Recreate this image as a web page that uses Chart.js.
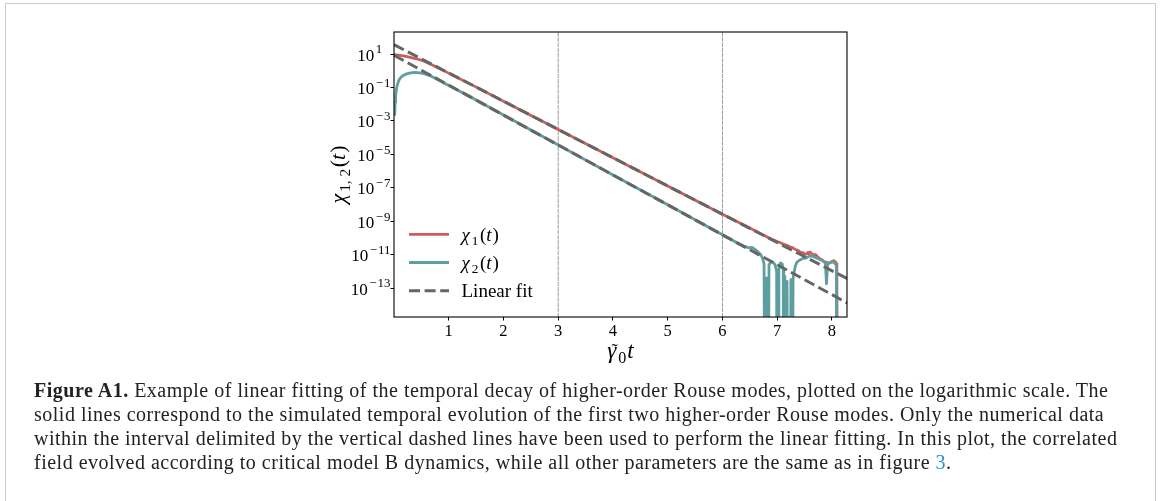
<!DOCTYPE html>
<html>
<head>
<meta charset="utf-8">
<script src="https://cdn.jsdelivr.net/npm/chart.js@4.4.0/dist/chart.umd.min.js"></script>
<style>
    html, body { margin: 0; padding: 0; background: #fff; }
    body { width: 1165px; height: 501px; position: relative; overflow: hidden; }
    #figure-box {
        position: absolute; left: 5px; top: 3px; width: 1151px; height: 520px;
        border: 1.5px solid #cbcbcb; border-bottom: none; box-sizing: border-box;
    }
    #decay-chart { position: absolute; left: 0; top: 0; }
    .caption {
        position: absolute; left: 34px; top: 378px;
        font-family: 'Liberation Serif', 'Times New Roman', serif;
        font-size: 20px; line-height: 24px; letter-spacing: 0.5px;
        color: #222; white-space: nowrap;
    }
    .caption .ref { color: #2b8fd0; }
</style>
</head>
<body>
<div id="figure-box"></div>
<canvas id="decay-chart" width="1165" height="501"></canvas>
<div class="caption">
    <div><b>Figure A1.</b> Example of linear fitting of the temporal decay of higher-order Rouse modes, plotted on the logarithmic scale. The</div>
    <div>solid lines correspond to the simulated temporal evolution of the first two higher-order Rouse modes. Only the numerical data</div>
    <div>within the interval delimited by the vertical dashed lines have been used to perform the linear fitting. In this plot, the correlated</div>
    <div>field evolved according to critical model B dynamics, while all other parameters are the same as in figure <span class="ref">3</span>.</div>
</div>
<script>
// samples are [time, log10(chi)]; null marks a non-positive sample (off the log axis)
const chi1Samples = [
    [0, 0.97], [0.08, 0.94], [0.17, 0.89], [0.26, 0.83], [0.35, 0.76], [0.44, 0.69],
    [0.53, 0.6], [0.62, 0.47], [0.71, 0.33], [0.8, 0.18], [0.9, 0.02], [1.0, -0.14],
    [1.14, -0.38], [1.3, -0.64], [1.45, -0.89], [2, -1.82], [3, -3.51], [4, -5.2],
    [5, -6.89], [6, -8.58], [6.5, -9.41], [6.7, -9.75], [6.9, -10.08], [7.0, -10.22],
    [7.06, -10.29], [7.12, -10.38], [7.18, -10.44], [7.23, -10.53], [7.28, -10.58],
    [7.33, -10.69], [7.38, -10.74], [7.43, -10.86], [7.47, -10.88], [7.5, -10.96],
    [7.53, -10.97], [7.56, -10.86], [7.58, -10.96], [7.6, -10.84], [7.62, -10.92],
    [7.65, -10.97], [7.68, -11.06], [7.7, -10.99], [7.73, -11.1], [7.76, -11.19],
    [7.79, -11.26], [7.82, -11.3], [7.85, -11.41], [7.88, -11.43], [7.92, -11.48],
    [7.95, -11.5], [7.98, -11.46], [8.01, -11.38], [8.04, -11.36], [8.07, -11.46],
    [8.09, -11.55], [8.11, null]
];
const chi2Samples = [
    [0.014, -2.62], [0.02, -1.9], [0.03, -1.5], [0.045, -1.1], [0.06, -0.85], [0.08, -0.65],
    [0.1, -0.5], [0.13, -0.38], [0.17, -0.28], [0.22, -0.2], [0.28, -0.14], [0.34, -0.11],
    [0.4, -0.1], [0.46, -0.12], [0.53, -0.16], [0.6, -0.23], [0.68, -0.33], [0.76, -0.46],
    [0.84, -0.6], [0.92, -0.74], [1.0, -0.88], [1.1, -1.05], [1.2, -1.22], [1.35, -1.48],
    [1.5, -1.75], [2, -2.65], [3, -4.44], [4, -6.23], [5, -8.02], [6, -9.81], [6.2, -10.17],
    [6.315, -10.38], [6.4, -10.5], [6.46, -10.56], [6.5, -10.6], [6.54, -10.57], [6.58, -10.66],
    [6.62, -10.75], [6.66, -10.88], [6.7, -11.0], [6.73, -11.2], [6.76, -11.55], [6.78, null],
    [6.8, -12.4], [6.81, null], [6.83, null], [6.85, -11.6], [6.88, -11.45], [6.92, -11.45],
    [6.96, -11.6], [6.99, -12.0], [7.0, null], [7.02, null], [7.03, -11.9], [7.06, -11.5],
    [7.09, -11.55], [7.11, -11.9], [7.12, null], [7.14, -12.3], [7.16, null], [7.18, -12.6],
    [7.2, null], [7.23, null], [7.25, -12.5], [7.27, null], [7.29, -12.4], [7.33, -11.7],
    [7.36, -11.45], [7.4, -11.35], [7.44, -11.28], [7.48, -11.22], [7.53, -11.2], [7.57, -11.12],
    [7.62, -11.05], [7.66, -11.12], [7.72, -11.2], [7.76, -11.26], [7.81, -11.34], [7.85, -11.42],
    [7.88, -11.5], [7.9, -12.74], [7.92, -11.6], [7.95, -11.5], [7.99, -11.45], [8.02, -11.44],
    [8.05, -11.5], [8.08, -11.64], [8.1, null]
];
const fit1Samples = [[0, 1.56], [8.3, -12.47]];
const fit2Samples = [[0, 0.93], [8.3, -13.93]];
const fitWindow = [3, 6];

const xRange = [0, 8.275];
const yExpRange = [-14.73, 2.32];
const xTickValues = [1, 2, 3, 4, 5, 6, 7, 8];
const yTickExponents = [1, -1, -3, -5, -7, -9, -11, -13];

const SERIF = "'Liberation Serif', 'DejaVu Serif', serif";
const BELOW_AXIS = 1e-30;

function toPoints(samples) {
    return samples.map(([t, e]) => ({ x: t, y: e === null ? BELOW_AXIS : 10 ** e }));
}

function verticalLine(x) {
    return [{ x: x, y: 10 ** yExpRange[0] }, { x: x, y: 10 ** yExpRange[1] }];
}

function chiLabel(sub) {
    return [
        { text: '\u03c7', italic: true, pad: 2 },
        { text: sub, sub: true, pad: 1.5 },
        { text: '(' },
        { text: 't', italic: true, pad: 1 },
        { text: ')' }
    ];
}

// draws a run of text pieces (italic / subscript / superscript / accent) on one baseline
function drawRich(ctx, parts, x, y, size, align, scriptScale = 0.7) {
    const fonts = parts.map(p => {
        const s = (p.sub || p.sup) ? size * scriptScale : size;
        return `${p.italic ? 'italic ' : ''}${s}px ${SERIF}`;
    });
    const widths = parts.map((p, i) => {
        ctx.font = fonts[i];
        return ctx.measureText(p.text).width + (p.pad || 0);
    });
    const total = widths.reduce((a, b) => a + b, 0);
    let cx = align === 'center' ? x - total / 2 : (align === 'right' ? x - total : x);
    ctx.textAlign = 'left';
    ctx.textBaseline = 'alphabetic';
    parts.forEach((p, i) => {
        ctx.font = fonts[i];
        let dy = 0;
        if (p.sub) dy = size * 0.22;
        if (p.sup) dy = -size * 0.42;
        ctx.fillText(p.text, cx, y + dy);
        if (p.accent) {
            ctx.font = `${size * 0.8}px ${SERIF}`;
            const aw = ctx.measureText(p.accent).width;
            ctx.fillText(p.accent, cx + widths[i] / 2 - aw / 2 + size * 0.08, y - size * 0.04);
        }
        cx += widths[i];
    });
    return total;
}

const figureDecor = {
    id: 'figureDecor',
    afterDraw(chart) {
        const { ctx, chartArea: area, scales } = chart;
        ctx.save();

        // axes frame on all four sides
        ctx.strokeStyle = '#000';
        ctx.lineWidth = 1.1;
        ctx.strokeRect(area.left, area.top, area.right - area.left, area.bottom - area.top);

        // y tick labels as 10^n
        ctx.fillStyle = '#000';
        const tickSize = 17;
        const scriptScale = 0.76;
        ctx.font = `${tickSize * scriptScale}px ${SERIF}`;
        const minusWidth = ctx.measureText('\u2212').width + 1;
        yTickExponents.forEach(e => {
            const py = scales.y.getPixelForValue(10 ** e);
            const parts = [{ text: '10', pad: 1.5 }];
            if (e < 0) {
                parts.push({ text: '\u2212', sup: true, pad: 1 });
                parts.push({ text: String(-e), sup: true });
            } else {
                parts.push({ text: String(e), sup: true, pad: minusWidth });
            }
            drawRich(ctx, parts, area.left - 3.5, py + 6.5, tickSize, 'right', scriptScale);
        });

        // axis titles
        drawRich(ctx, [
            { text: '\u03b3', italic: true, accent: '\u02dc', pad: 2 },
            { text: '0', sub: true, pad: 1 },
            { text: 't', italic: true }
        ], (area.left + area.right) / 2, 358, 23, 'center');

        ctx.save();
        ctx.translate(area.left - 49, (area.top + area.bottom) / 2);
        ctx.rotate(-Math.PI / 2);
        drawRich(ctx, [
            { text: '\u03c7', italic: true, pad: 2 },
            { text: '1, 2', sub: true, pad: 1.5 },
            { text: '(' },
            { text: 't', italic: true, pad: 1 },
            { text: ')' }
        ], 0, 0, 22, 'center');
        ctx.restore();

        // legend in the lower-left corner of the axes
        const entries = chart.data.datasets
            .filter(ds => ds.legendParts)
            .sort((a, b) => a.legendRank - b.legendRank);
        entries.forEach((ds, i) => {
            const ly = area.bottom - 82.7 + i * 28.2;
            const x0 = area.left + 15;
            ctx.save();
            ctx.strokeStyle = ds.borderColor;
            ctx.lineWidth = ds.borderWidth;
            ctx.setLineDash(ds.borderDash || []);
            ctx.lineCap = 'butt';
            ctx.beginPath();
            ctx.moveTo(x0, ly);
            ctx.lineTo(x0 + 40, ly);
            ctx.stroke();
            ctx.restore();
            ctx.fillStyle = '#000';
            drawRich(ctx, ds.legendParts, x0 + 52.5, ly + 6.6, 19, 'left');
        });

        ctx.restore();
    }
};

function renderDecayChart() {
    const ctx = document.getElementById('decay-chart').getContext('2d');

    new Chart(ctx, {
        type: 'line',
        data: {
            datasets: [
                {
                    data: toPoints(fit1Samples),
                    borderColor: '#666666',
                    borderWidth: 3,
                    borderDash: [11, 4.6],
                    borderCapStyle: 'butt',
                    order: 1,
                    legendRank: 3,
                    legendParts: [{ text: 'Linear fit' }]
                },
                {
                    data: toPoints(fit2Samples),
                    borderColor: '#666666',
                    borderWidth: 3,
                    borderDash: [11, 4.6],
                    borderCapStyle: 'butt',
                    order: 1
                },
                {
                    data: toPoints(chi1Samples),
                    borderColor: '#cd5c5c',
                    borderWidth: 2.7,
                    order: 3,
                    legendRank: 1,
                    legendParts: chiLabel('1')
                },
                {
                    data: toPoints(chi2Samples),
                    borderColor: '#5f9ea0',
                    borderWidth: 2.8,
                    order: 2,
                    legendRank: 2,
                    legendParts: chiLabel('2')
                },
                ...fitWindow.map(x => ({
                    data: verticalLine(x),
                    borderColor: '#9a9a9a',
                    borderWidth: 1,
                    borderDash: [3.6, 1.6],
                    order: 4
                }))
            ]
        },
        options: {
            responsive: false,
            animation: false,
            events: [],
            layout: { padding: { left: 344, top: 32, right: 318, bottom: 144 } },
            elements: {
                point: { radius: 0 },
                line: { tension: 0, borderJoinStyle: 'round', borderCapStyle: 'round' }
            },
            scales: {
                x: {
                    type: 'linear',
                    min: xRange[0],
                    max: xRange[1],
                    afterBuildTicks: scale => { scale.ticks = xTickValues.map(v => ({ value: v })); },
                    afterFit: scale => { scale.height = 40; },
                    grid: { drawOnChartArea: false, drawTicks: true, tickLength: 3.5, tickColor: '#000', lineWidth: 1 },
                    border: { display: false },
                    ticks: {
                        padding: 1,
                        color: '#000',
                        maxRotation: 0,
                        font: { family: SERIF, size: 16.5 },
                        callback: v => String(v)
                    }
                },
                y: {
                    type: 'logarithmic',
                    min: 10 ** yExpRange[0],
                    max: 10 ** yExpRange[1],
                    afterBuildTicks: scale => { scale.ticks = yTickExponents.map(e => ({ value: 10 ** e })); },
                    afterFit: scale => { scale.width = 50; },
                    grid: { drawOnChartArea: false, drawTicks: true, tickLength: 3.5, tickColor: '#000', lineWidth: 1 },
                    border: { display: false },
                    ticks: { display: false }
                }
            },
            plugins: {
                legend: { display: false },
                tooltip: { enabled: false }
            }
        },
        plugins: [figureDecor]
    });
}

renderDecayChart();
</script>
</body>
</html>
